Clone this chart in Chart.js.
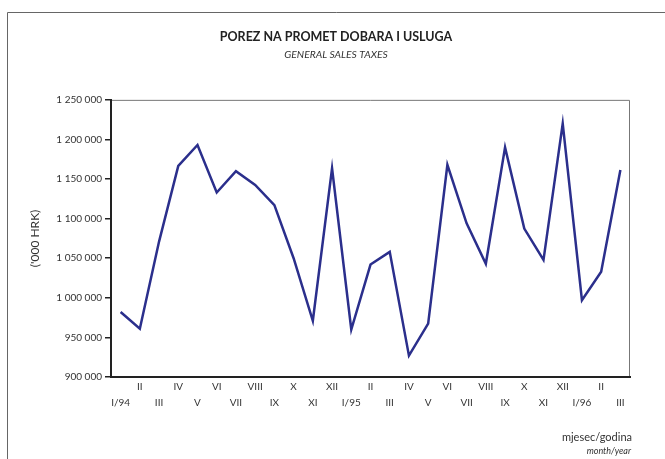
<!DOCTYPE html>
<html>
<head>
<meta charset="utf-8">
<script src="https://cdn.jsdelivr.net/npm/chart.js@4.4.1/dist/chart.umd.min.js"></script>
<style>
  html, body { margin: 0; padding: 0; background: #fff; }
  #wrap { position: relative; width: 665px; height: 459px; }
</style>
</head>
<body>
<div id="wrap"><canvas id="taxChart" width="665" height="459"></canvas></div>
<script>
// months I/94 .. III/96
const months = ['I/94', 'II', 'III', 'IV', 'V', 'VI', 'VII', 'VIII', 'IX', 'X', 'XI', 'XII',
  'I/95', 'II', 'III', 'IV', 'V', 'VI', 'VII', 'VIII', 'IX', 'X', 'XI', 'XII',
  'I/96', 'II', 'III'];

// '000 HRK
const salesTax = [982000, 961000, 1071000, 1166500, 1193000, 1133000, 1160000, 1142500, 1117000,
  1050000, 971000, 1163500, 960000, 1042000, 1058000, 927000, 967500, 1168000,
  1094000, 1043000, 1190000, 1087500, 1048000, 1220000, 997000, 1033000, 1161500];

const yMin = 900000;
const yMax = 1250000;
const yStep = 50000;

const FONT = 'Lato, "Open Sans", sans-serif';
const TEXT = '#333';

// even months go to the upper row, odd ones to the lower row
const labels = months.map((m, i) => (i % 2 === 0 ? ['', m] : [m, '']));

const framePlugin = {
  id: 'frame',
  beforeDraw(chart) {
    const c = chart.ctx;
    const area = chart.chartArea;
    c.save();
    // outer page frame
    c.strokeStyle = '#666';
    c.lineWidth = 1;
    c.beginPath();
    c.moveTo(7.5, 459);
    c.lineTo(7.5, 12.5);
    c.lineTo(665, 12.5);
    c.stroke();
    // thin top / right of plot box
    c.strokeStyle = '#777';
    c.beginPath();
    c.moveTo(area.left, area.top + 0.5);
    c.lineTo(area.right - 0.5, area.top + 0.5);
    c.lineTo(area.right - 0.5, area.bottom);
    c.stroke();
    c.restore();
  },
  afterDraw(chart) {
    const c = chart.ctx;
    c.save();
    c.fillStyle = TEXT;
    c.textAlign = 'right';
    c.textBaseline = 'middle';
    c.font = '11px ' + FONT;
    c.fillText('mjesec/godina', 632, 437);
    c.font = 'italic 9px ' + FONT;
    c.fillText('month/year', 631, 451);
    c.restore();
  }
};

const ctx = document.getElementById('taxChart');

new Chart(ctx, {
  type: 'line',
  data: {
    labels: labels,
    datasets: [{
      data: salesTax,
      borderColor: '#2b2f8c',
      borderWidth: 2.5,
      pointRadius: 0,
      tension: 0,
      fill: false
    }]
  },
  options: {
    responsive: false,
    animation: false,
    layout: { padding: { left: 42, right: 35, top: 0, bottom: 42 } },
    plugins: {
      legend: { display: false },
      tooltip: { enabled: false },
      title: {
        display: true,
        text: 'POREZ NA PROMET DOBARA I USLUGA',
        color: '#222',
        font: { family: FONT, size: 12.5, weight: 'bold' },
        padding: { top: 29.5, bottom: 4 }
      },
      subtitle: {
        display: true,
        text: 'GENERAL SALES TAXES',
        color: TEXT,
        font: { family: FONT, size: 10.3, style: 'italic' },
        padding: { top: 0, bottom: 39 }
      }
    },
    scales: {
      x: {
        offset: true,
        grid: { display: false, drawTicks: false },
        border: { color: '#222', width: 2 },
        ticks: {
          color: TEXT,
          font: { family: FONT, size: 10, lineHeight: 1.6 },
          padding: 2,
          maxRotation: 0,
          autoSkip: false
        },
        afterFit(scale) { scale.height = 40; }
      },
      y: {
        min: yMin,
        max: yMax,
        grid: { drawOnChartArea: false, drawTicks: true, tickLength: 6, color: '#222', lineWidth: 1.5 },
        border: { color: '#222', width: 2 },
        ticks: {
          stepSize: yStep,
          color: TEXT,
          padding: 3,
          font: { family: FONT, size: 10 },
          callback: (v) => v.toString().replace(/\B(?=(\d{3})+(?!\d))/g, ' ')
        },
        title: {
          display: true,
          text: "('000 HRK)",
          color: TEXT,
          font: { family: FONT, size: 12 },
          padding: { top: -14, bottom: 0 }
        },
        afterFit(scale) { scale.width = 69; }
      }
    }
  },
  plugins: [framePlugin]
});
</script>
</body>
</html>
